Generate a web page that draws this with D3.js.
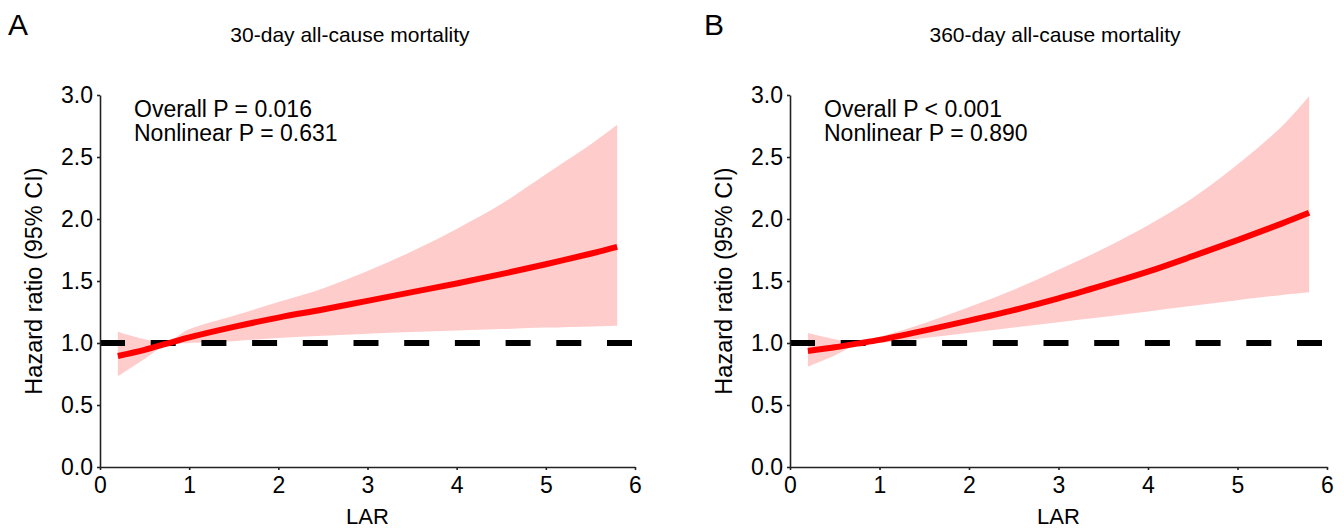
<!DOCTYPE html>
<html>
<head>
    <title>LAR hazard ratio</title>
    <style>
        body { margin: 0; background: #fff; }
        text { font-family: "Liberation Sans", Arial, Helvetica, sans-serif; fill: #000; }
    </style>
</head>
<body>
    <script src="https://d3js.org/d3.v7.min.js"></script>
    <script>
        const larGrid = [0.2, 0.5, 0.75, 1, 1.5, 2, 2.5, 3, 3.5, 4, 4.5, 5, 5.5, 5.8];

        // Panel A: 30-day all-cause mortality
        const hr30 = [0.895, 0.945, 0.995, 1.045, 1.13, 1.205, 1.27, 1.34, 1.41, 1.48, 1.555, 1.635, 1.72, 1.775];
        const lower30 = [0.73, 0.87, 0.985, 1.0, 1.015, 1.04, 1.058, 1.074, 1.088, 1.1, 1.112, 1.124, 1.134, 1.14];
        const upper30 = [1.09, 1.03, 1.01, 1.11, 1.22, 1.33, 1.44, 1.58, 1.74, 1.92, 2.12, 2.36, 2.6, 2.76];

        // Panel B: 360-day all-cause mortality
        const hr360 = [0.935, 0.965, 0.995, 1.025, 1.1, 1.18, 1.265, 1.36, 1.465, 1.575, 1.7, 1.83, 1.965, 2.05];
        const lower360 = [0.81, 0.9, 0.985, 1.0, 1.04, 1.082, 1.125, 1.168, 1.21, 1.255, 1.3, 1.345, 1.388, 1.41];
        const upper360 = [1.08, 1.03, 1.005, 1.05, 1.16, 1.29, 1.43, 1.59, 1.76, 1.95, 2.17, 2.44, 2.75, 2.99];

        const xTicks = [0, 1, 2, 3, 4, 5, 6];
        const yTicks = [0, 0.5, 1, 1.5, 2, 2.5, 3];

        const width = 1344;
        const height = 529;

        const svg = d3.select('body')
            .append('svg')
            .attr('width', width)
            .attr('height', height);

        function drawPanel(p) {
            const x = d3.scaleLinear().domain([0, 6]).range([p.left, p.right]);
            const y = d3.scaleLinear().domain([0, 3]).range([467, 95]);

            const rows = larGrid.map((v, i) => ({ lar: v, hr: p.hr[i], lo: p.lower[i], hi: p.upper[i] }));

            const g = svg.append('g');

            // confidence band
            g.append('path')
                .datum(rows)
                .attr('fill', 'rgb(255,204,204)')
                .attr('d', d3.area()
                    .curve(d3.curveCatmullRom)
                    .x(d => x(d.lar))
                    .y0(d => y(d.lo))
                    .y1(d => y(d.hi)));

            // reference line HR = 1
            g.append('line')
                .attr('x1', x(0))
                .attr('x2', x(6))
                .attr('y1', y(1))
                .attr('y2', y(1))
                .attr('stroke', '#000')
                .attr('stroke-width', 6)
                .attr('stroke-dasharray', '25,25.7');

            // hazard ratio curve
            g.append('path')
                .datum(rows)
                .attr('fill', 'none')
                .attr('stroke', '#ff0000')
                .attr('stroke-width', 6)
                .attr('d', d3.line()
                    .curve(d3.curveCatmullRom)
                    .x(d => x(d.lar))
                    .y(d => y(d.hr)));

            // axes
            const xAxis = g.append('g')
                .attr('transform', `translate(0,${y(0)})`)
                .call(d3.axisBottom(x).tickValues(xTicks).tickFormat(d3.format('d'))
                    .tickSize(3).tickSizeOuter(0).tickPadding(7));
            const yAxis = g.append('g')
                .attr('transform', `translate(${x(0)},0)`)
                .call(d3.axisLeft(y).tickValues(yTicks).tickFormat(d3.format('.1f'))
                    .tickSize(3).tickSizeOuter(0).tickPadding(4));

            [xAxis, yAxis].forEach(a => {
                a.selectAll('path, line').attr('stroke', '#222').attr('stroke-width', 1.6);
                a.selectAll('text').attr('font-size', 23).attr('fill', '#000')
                    .style('font-family', '"Liberation Sans", Arial, sans-serif');
            });

            // axis titles
            g.append('text')
                .attr('x', (p.left + p.right) / 2)
                .attr('y', 524)
                .attr('text-anchor', 'middle')
                .attr('font-size', 22)
                .text('LAR');

            g.append('text')
                .attr('transform', `translate(${p.left - 58},281) rotate(-90)`)
                .attr('text-anchor', 'middle')
                .attr('font-size', 23.5)
                .text('Hazard ratio (95% CI)');

            // panel title and letter
            g.append('text')
                .attr('x', p.titleX)
                .attr('y', 42)
                .attr('text-anchor', 'middle')
                .attr('font-size', 21)
                .text(p.title);

            g.append('text')
                .attr('x', p.letterX)
                .attr('y', 35)
                .attr('font-size', 30)
                .text(p.letter);

            // p-value annotation
            g.append('text')
                .attr('x', p.left + 34)
                .attr('y', 117)
                .attr('font-size', 23)
                .text(p.overall);
            g.append('text')
                .attr('x', p.left + 34)
                .attr('y', 141)
                .attr('font-size', 23)
                .text(p.nonlinear);
        }

        drawPanel({
            left: 100, right: 635,
            hr: hr30, lower: lower30, upper: upper30,
            title: '30-day all-cause mortality', titleX: 350,
            letter: 'A', letterX: 8,
            overall: 'Overall P = 0.016', nonlinear: 'Nonlinear P = 0.631'
        });

        drawPanel({
            left: 790, right: 1327,
            hr: hr360, lower: lower360, upper: upper360,
            title: '360-day all-cause mortality', titleX: 1055,
            letter: 'B', letterX: 704,
            overall: 'Overall P < 0.001', nonlinear: 'Nonlinear P = 0.890'
        });
    </script>
</body>
</html>
